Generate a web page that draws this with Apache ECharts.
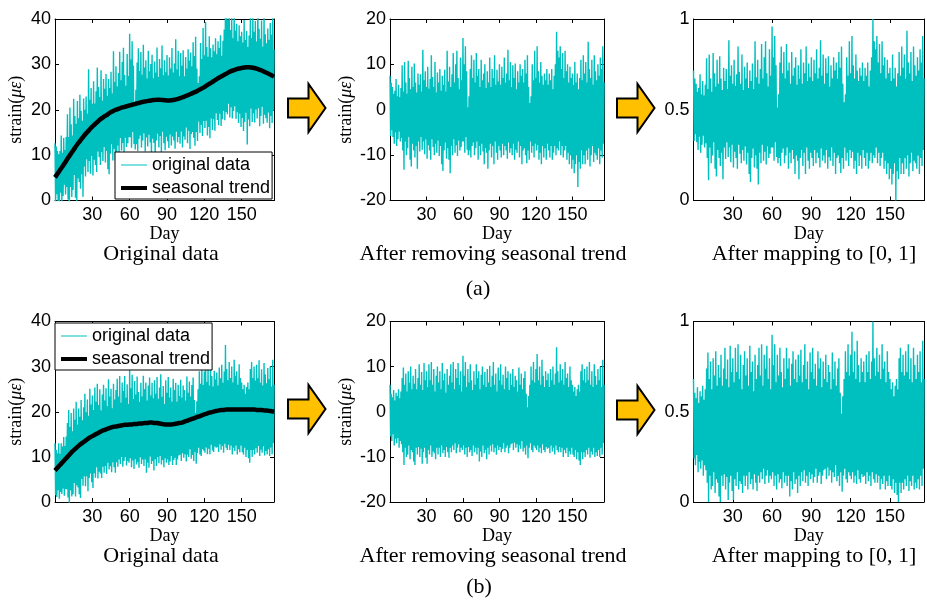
<!DOCTYPE html>
<html>
<head>
<meta charset="utf-8">
<title>Strain preprocessing</title>
<script src="https://cdn.jsdelivr.net/npm/echarts@6/dist/echarts.min.js"></script>
<style>
  html, body { margin: 0; padding: 0; background: #fff; }
  #chart { width: 927px; height: 603px; }
</style>
</head>
<body>
<div id="chart"></div>
<script>
// ---- data ---------------------------------------------------------------
// Sampling: detrended strain every half day (day 0 .. 176), trend every 2 days.
const STEP = 0.5;
const TREND_STEP = 2;
const DAY_MAX = 176;
const dayTicks = [30, 60, 90, 120, 150];

// Row (a): detrended strain (με), alternating daily highs / lows
const detrendA = [
  7.5,-5.8,6,-4.5,5,-6,3.5,-7.5,4.2,-5,6.8,-8,3,-6.5,5.5,-4.8,2.8,-7,4.8,-6.2,
  9.8,-9,4,-13.2,10.5,-7,6,-10,3.5,-8.5,10.8,-6,7,-11,4.5,-12.5,9.5,-7.5,5,-9,
  10.2,-10.5,6,-8,3.8,-13,8,-7,5.5,-9.2,7.8,-6,4,-8.8,13.2,-7,6.5,-9.8,8.5,-6.5,
  5,-10.8,9.5,-7.8,4.6,-9,6.8,-11,12,-6.5,7.2,-8.2,5,-10,10.5,-7.5,3.8,-9.5,8.2,-6.8,
  6,-10.2,9,-8,4.2,-12,7.5,-13.5,5.5,-9,8.8,-7.2,4,-10.8,13,-8.5,6.2,-11,9.5,-14,
  5,-8,7.8,-10,12.5,-6.5,6,-9.5,10,-7.8,13,-10.2,7,-6.8,4.5,-9,11.5,-8.2,6.5,-7,
  15.8,-7,10,-9.5,14,-6,8.5,-8.8,0.5,-10,3,-9,9,-10.5,12,-8,7,-7.2,11,-10,
  6,-8.5,12.5,-7,7.5,-11,9,-8,5,-10,11,-7.5,6.5,-9.2,8,-12,10,-8.5,4.8,-9.5,
  8.5,-13,6,-9,11.5,-7.5,5,-10.5,9,-8,7,-12,12,-7,5.5,-9.5,8.8,-11,6.2,-8,
  10,-9,5.5,-10.5,9.5,-7.5,7,-10,11.5,-8,6,-9,8,-10.8,13.2,-7.2,6.5,-9.5,10.5,-8.5,
  5,-10,9.8,-7.5,7,-11,10.2,-8.8,4.5,-9.5,8.5,-7,6,-10.5,10,-8,7.5,-12,9,-9,
  6,-8.5,11,-10,8,-11.8,12,-9,5,-11,1.5,-7,3,-9.5,10,-8,6.5,-10.5,13,-7.5,
  7,-9,14,-7.8,8.5,-11,6,-9.5,10.5,-12,7.5,-8,5.5,-10.5,8,-8.5,6.5,-11,9,-7.5,
  5.5,-9,8,-10.5,6.5,-8,9,-11,4.5,-9.5,7.5,-8,10,-10,17.2,-8.5,13,-9,11.5,-7,
  14,-10,9,-8,12.5,-10.5,7,-9,13,-8,8.5,-11,10,-9.5,6,-12,9.5,-10,7,-13,
  8,-11,5.5,-14,10.5,-12,6,-10,8,-17,4.5,-11.5,7,-13,11,-9,6.5,-12,12,-10,
  8,-12,10.5,-9,6,-11,15,-8.5,9,-12.5,7,-10,11,-8,5.5,-11.5,12,-9.5,8.5,-10,
  6.5,-11,10,-8.5,7.5,-12,11.5,-9,9,-10.5,14,-7.5,6
];

// Row (a): seasonal trend (με), days 0, 2, ..., 176
const trendA = [
  5.1,5.9,6.7,7.5,8.3,9.2,10.0,10.8,11.6,12.4,
  13.1,13.8,14.5,15.1,15.7,16.3,16.8,17.3,17.8,18.2,
  18.6,18.9,19.3,19.6,19.9,20.1,20.3,20.5,20.65,20.8,
  20.95,21.1,21.25,21.4,21.55,21.7,21.8,21.9,22.0,22.1,
  22.15,22.2,22.2,22.15,22.1,22.05,22.05,22.1,22.2,22.35,
  22.5,22.7,22.9,23.1,23.35,23.6,23.85,24.1,24.4,24.7,
  25.0,25.35,25.7,26.05,26.4,26.75,27.1,27.4,27.7,28.0,
  28.3,28.55,28.75,28.95,29.1,29.2,29.3,29.35,29.35,29.3,
  29.2,29.05,28.85,28.65,28.4,28.15,27.9,27.6,27.3
];

// Row (b): detrended strain (με)
const detrendB = [
  6,-5.5,4,-6.5,3.2,-5,4.8,-7.5,2.5,-6,4.2,-7,3.5,-5.8,5,-8,3,-6.5,4.5,-7.2,
  7.5,-9,9.8,-11.8,6,-8,8.5,-10,4.5,-9.5,9,-7.5,6.5,-10.5,10,-8.5,5,-9,8,-11,
  6.2,-11.8,9.5,-8,5,-9.5,7.5,-7.8,10.5,-10,6,-8.2,8.8,-11.5,4.8,-9,10.8,-8,7,-10.2,
  9,-11.5,5.5,-8.5,10.5,-9.5,7,-7.5,11,-10,6,-8.8,9.5,-9.2,4.5,-10.5,8,-8,10,-9.5,
  6.5,-8,9,-10,5,-7.5,10.8,-9.2,7,-8.5,8.5,-10,4.2,-7.8,9.5,-9,6,-10.2,8,-8,
  10.5,-9,6.5,-7.5,11,-8.5,5,-7,9.5,-9.2,7.5,-8,10.8,-7.2,6,-9,9,-8,4.5,-8.5,
  12.4,-7.5,8,-9.5,11,-8,5.5,-10,9.5,-7.8,6.5,-9,10.5,-8.5,7,-9.8,4.8,-7.5,9,-9,
  6,-8,10.5,-9.5,7.5,-8,9,-11,5,-8.8,8.2,-10,10,-7.5,6,-9.2,8.8,-8.5,5.5,-10.5,
  9.5,-8,6.5,-9.5,10.2,-7.5,5.5,-8.8,8,-7.2,11,-9,6,-8,8.5,-9.5,4.5,-7.5,9.8,-8.5,
  7,-7.8,10.5,-9,6,-8.2,8.2,-7,5,-9,10,-8,7.5,-7.5,9,-9.2,4.8,-8,8.5,-7.2,
  6,-7,9.5,-8.5,5.5,-6.8,8,-8,7,-7.2,4.5,-9,9.8,-7.5,6,-8.2,8.5,-6.5,5,-8.8,
  7.5,-8,9,-9.5,4,-7.5,1,-10.3,3.5,-8,6,-7,10,-8.5,7,-9,11,-7.5,6.5,-8,
  9.5,-8.5,12.8,-7.5,7,-9,10,-8,6,-9.2,11.5,-7.2,8,-8.5,5.5,-9,9,-7.8,7,-8.2,
  8.5,-8,5.5,-9.2,9.5,-7.5,7,-8.8,10,-8,6,-9.5,8.5,-7.5,14.3,-8.5,9,-9,6.5,-7.8,
  10.5,-9,7,-8,9.5,-10,6,-8.5,11,-9.2,7.5,-8,8.5,-10,5.5,-8.8,10,-9.5,7,-8,
  6,-9.5,4.5,-10,5.5,-8.5,3.5,-10.5,5,-9,6,-10.8,4.5,-11.8,9,-9,10.5,-10.5,7,-9,
  9.5,-10,6.5,-8.5,10,-9.5,7,-8,11,-10.2,6,-8.8,9,-9.5,5.5,-8,10.5,-10,8,-9,
  6,-9.8,9.5,-8.5,7,-10,10,-8,5.5,-9.5,11.5,-7,6
];

// Row (b): seasonal trend (με), days 0, 2, ..., 176
const trendB = [
  7.0,7.6,8.2,8.8,9.4,10.0,10.6,11.2,11.7,12.2,
  12.7,13.1,13.5,13.9,14.3,14.6,14.9,15.2,15.5,15.8,
  16.0,16.2,16.4,16.6,16.7,16.8,16.9,17.0,17.1,17.1,
  17.2,17.2,17.3,17.3,17.4,17.4,17.5,17.5,17.6,17.6,
  17.5,17.5,17.4,17.3,17.2,17.2,17.2,17.2,17.3,17.4,
  17.5,17.6,17.8,18.0,18.2,18.4,18.6,18.8,19.0,19.2,
  19.4,19.6,19.8,19.9,20.1,20.2,20.3,20.4,20.4,20.5,
  20.5,20.5,20.5,20.5,20.5,20.5,20.5,20.5,20.5,20.5,
  20.5,20.4,20.4,20.4,20.3,20.3,20.2,20.1,20.0
];

const legendNames = ['original data', 'seasonal trend'];
const panelTitles = ['Original data', 'After removing seasonal trend', 'After mapping to [0, 1]'];
const rowTags = ['(a)', '(b)'];

// ---- styling ------------------------------------------------------------
const SANS = '"Liberation Sans", Arial, sans-serif';
const SERIF = '"Liberation Serif", "Times New Roman", serif';
const CYAN = '#00BFBF';
const ARROW_FILL = '#FFC000';

// Build the three series of one row: original = trend + detrended,
// mapped = detrended rescaled to [0, 1].
function buildRow(detrend, trend) {
  const lo = Math.min(...detrend);
  const hi = Math.max(...detrend);
  const original = [], residual = [], mapped = [];
  detrend.forEach((r, i) => {
    const day = i * STEP;
    const t = trend[Math.round(day / TREND_STEP)];
    original.push([day, +(t + r).toFixed(2)]);
    residual.push([day, r]);
    mapped.push([day, (r - lo) / (hi - lo)]);
  });
  const trendLine = trend.map((v, k) => [k * TREND_STEP, v]);
  return { original, residual, mapped, trendLine };
}

const rows = [buildRow(detrendA, trendA), buildRow(detrendB, trendB)];

const gridBoxes = [
  { left: 55,    top: 19,    width: 219, height: 181.5 },
  { left: 390,   top: 19,    width: 214, height: 181.5 },
  { left: 693.5, top: 19,    width: 235, height: 181.5 },
  { left: 55,    top: 321.5, width: 219, height: 180.5 },
  { left: 390,   top: 321.5, width: 214, height: 180.5 },
  { left: 693.5, top: 321.5, width: 235, height: 180.5 }
];

const yRanges = [
  { min: 0,   max: 40, interval: 10 },
  { min: -20, max: 20, interval: 10 },
  { min: 0,   max: 1,  interval: 0.5 }
];

const yNameGap = [30, 35, 0];

const axisLine = { show: true, onZero: false, lineStyle: { color: '#000', width: 1 } };
const axisTick = { show: true, inside: true, length: 4, lineStyle: { color: '#000', width: 1 } };

const xAxes = [], yAxes = [], series = [];

gridBoxes.forEach((g, gi) => {
  const col = gi % 3;
  const row = Math.floor(gi / 3);
  const yr = yRanges[col];

  xAxes.push({
    type: 'value', gridIndex: gi, position: 'bottom',
    min: 0, max: DAY_MAX, interval: 30,
    axisLine, axisTick, splitLine: { show: false },
    axisLabel: {
      color: '#000', fontFamily: SANS, fontSize: 18, margin: 6,
      formatter: v => (dayTicks.indexOf(v) >= 0 ? String(v) : '')
    },
    name: 'Day', nameLocation: 'middle', nameGap: 22,
    nameTextStyle: { color: '#000', fontFamily: SERIF, fontSize: 18 }
  });
  xAxes.push({
    type: 'value', gridIndex: gi, position: 'top',
    min: 0, max: DAY_MAX, interval: 30,
    axisLine, axisTick, splitLine: { show: false }, axisLabel: { show: false }
  });

  const yLeft = {
    type: 'value', gridIndex: gi, position: 'left',
    min: yr.min, max: yr.max, interval: yr.interval,
    axisLine, axisTick, splitLine: { show: false },
    axisLabel: { color: '#000', fontFamily: SANS, fontSize: 18, margin: 4 }
  };
  if (col < 2) {
    Object.assign(yLeft, {
      name: 'strain({g|με})', nameLocation: 'middle', nameRotate: 90, nameGap: yNameGap[col],
      nameTextStyle: {
        color: '#000', fontFamily: SERIF, fontSize: 18,
        rich: { g: { color: '#000', fontFamily: SERIF, fontSize: 18, fontStyle: 'italic' } }
      }
    });
  }
  yAxes.push(yLeft);
  yAxes.push({
    type: 'value', gridIndex: gi, position: 'right',
    min: yr.min, max: yr.max, interval: yr.interval,
    axisLine, axisTick, splitLine: { show: false }, axisLabel: { show: false }
  });

  const data = rows[row];
  const values = col === 0 ? data.original : col === 1 ? data.residual : data.mapped;
  series.push({
    type: 'line', name: legendNames[0],
    xAxisIndex: 2 * gi, yAxisIndex: 2 * gi,
    data: values, symbol: 'none', showSymbol: false,
    lineStyle: { color: CYAN, width: 1.4 }, itemStyle: { color: CYAN },
    z: 2, animation: false, silent: true
  });
  if (col === 0) {
    series.push({
      type: 'line', name: legendNames[1],
      xAxisIndex: 2 * gi, yAxisIndex: 2 * gi,
      data: data.trendLine, symbol: 'none', showSymbol: false, smooth: true,
      lineStyle: { color: '#000', width: 4.5 }, itemStyle: { color: '#000' },
      z: 3, animation: false, silent: true
    });
  }
});

function legendAt(left, top) {
  return {
    left, top, orient: 'vertical', selectedMode: false,
    backgroundColor: '#fff', borderColor: '#000', borderWidth: 1, borderRadius: 0,
    padding: [4, 2, 2, 6], itemGap: 5, itemWidth: 26, itemHeight: 14,
    textStyle: { color: '#000', fontFamily: SANS, fontSize: 18 },
    data: [
      { name: legendNames[0], icon: 'path://M0,6.5H26V7.5H0Z', itemStyle: { color: CYAN } },
      { name: legendNames[1], icon: 'path://M0,5H26V9H0Z', itemStyle: { color: '#000' } }
    ]
  };
}

function arrow(x0, yc) {
  return {
    type: 'polygon', silent: true,
    shape: { points: [
      [x0, yc - 9.5], [x0 + 20.5, yc - 9.5], [x0 + 20.5, yc - 24], [x0 + 37.5, yc],
      [x0 + 20.5, yc + 24], [x0 + 20.5, yc + 9.5], [x0, yc + 9.5]
    ] },
    style: { fill: ARROW_FILL, stroke: '#000', lineWidth: 2, lineJoin: 'miter' }
  };
}

function caption(text, x, y) {
  return {
    type: 'text', x, y, silent: true,
    style: { text, fill: '#000', font: '22px ' + SERIF, align: 'center', verticalAlign: 'middle' }
  };
}

const captionX = [161, 493, 814];
const captionY = [254, 556];
const graphics = [];
[0, 1].forEach(r => {
  panelTitles.forEach((t, c) => graphics.push(caption(t, captionX[c], captionY[r])));
});
graphics.push(caption(rowTags[0], 478, 289));
graphics.push(caption(rowTags[1], 479, 587));
graphics.push(arrow(288, 108), arrow(617, 108), arrow(288, 409), arrow(617, 410));

const chart = echarts.init(document.getElementById('chart'), null, { renderer: 'canvas' });
chart.setOption({
  animation: false,
  backgroundColor: '#fff',
  grid: gridBoxes,
  xAxis: xAxes,
  yAxis: yAxes,
  series,
  legend: [legendAt(115, 152), legendAt(55, 323)],
  graphic: graphics
});
</script>
</body>
</html>
